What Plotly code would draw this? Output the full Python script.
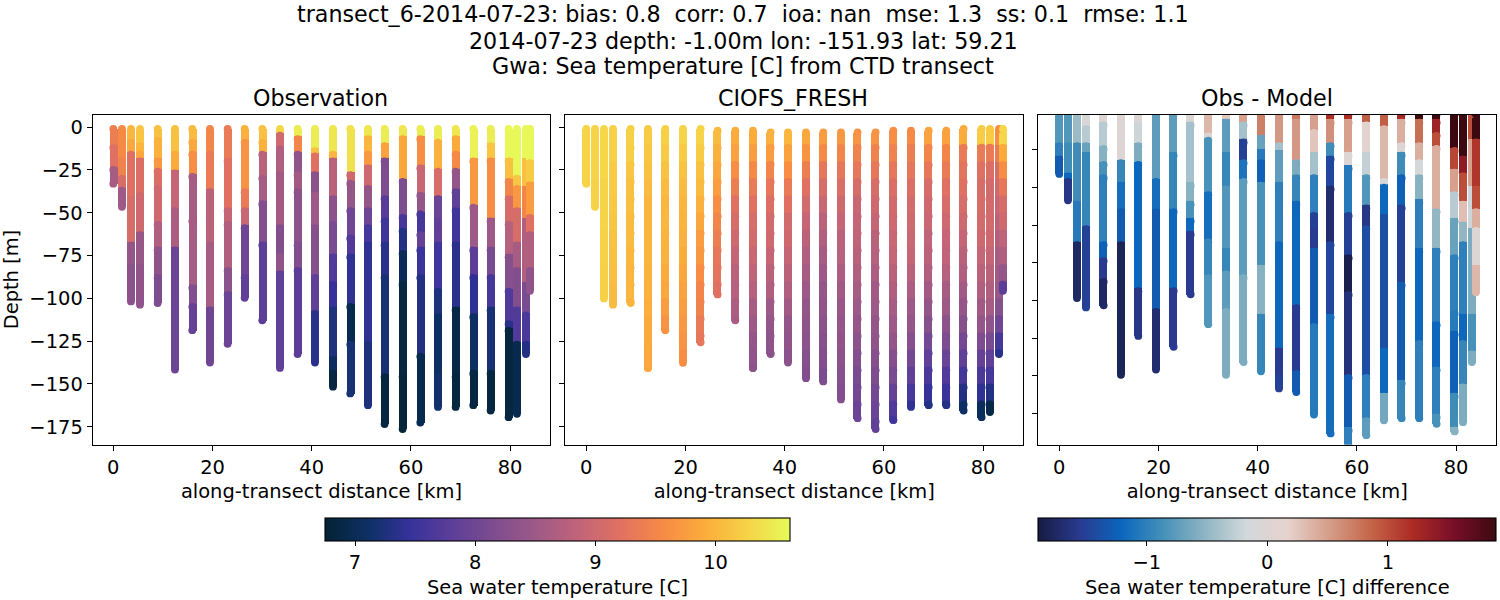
import plotly.graph_objects as go
from plotly.subplots import make_subplots

# cast positions along the transect [km]
CAST_KM = [0, 1.75, 3.56, 5.38, 8.94, 12.43, 15.93, 19.49, 23.05, 26.48, 30.04, 33.6, 37.16, 40.66,
           44.29, 47.78, 51.34, 54.7, 58.33, 61.9, 65.46, 69.02, 72.58, 76.07, 79.7, 81.38, 83.2, 84.0]

# observation: lower edge of each layer [m] and its temperature [C]
OBS_DEPTH = [
    [10, 23, 33],
    [18, 28, 35, 46.5],
    [7, 14, 40, 67, 80, 101.8],
    [9, 14, 18, 38, 61, 80, 103.7],
    [6, 18, 24, 34, 55, 70, 86, 102.7],
    [14, 25, 47, 70, 141.6],
    [7, 14, 27, 53, 92, 103, 118.6],
    [14, 36, 67, 105, 137.5],
    [18, 47, 55, 82, 96, 126.5],
    [7, 36, 47, 57, 86, 99.7],
    [7, 14, 28, 43, 67, 112.8],
    [3, 11, 26, 57, 74, 84, 140.6],
    [5, 14, 26, 36, 67, 82, 132.5],
    [12, 15, 26, 38, 57, 86, 107, 137.5],
    [14, 18, 40, 55, 74, 90, 105, 134, 142, 151.6],
    [26, 31, 47, 63, 74, 103, 125, 155.5],
    [5, 14, 22, 34, 47, 57, 67, 82, 125, 162.4],
    [9, 18, 40, 53, 67, 86, 144, 173.4],
    [5, 30, 51, 59, 72, 90, 144, 176.3],
    [5, 22, 38, 49, 61, 70, 86, 132, 172.5],
    [7, 24, 40, 53, 67, 94, 109, 144, 163.4],
    [5, 14, 24, 36, 47, 67, 105, 144, 163.4],
    [18, 45, 70, 86, 109, 142, 162.4],
    [9, 18, 53, 70, 86, 105, 142, 165.5],
    [18, 30, 40, 55, 74, 94, 113, 117, 169.4],
    [28, 34, 47, 67, 82, 105, 125, 167.4],
    [18, 34, 53, 90, 108, 125, 132.5],
    [19, 32, 51, 61, 82, 95.6],
]
OBS_TEMP = [
    [9.4, 9.2, 8.6],
    [9.55, 9.45, 9.1, 8.5],
    [10.0, 9.85, 9.2, 9.1, 8.4, 8.3],
    [10.15, 10.0, 9.85, 9.15, 9.0, 8.45, 8.35],
    [10.1, 9.95, 9.7, 9.15, 9.0, 8.7, 8.35, 8.15],
    [10.1, 9.9, 8.9, 8.65, 7.95],
    [10.05, 9.85, 9.6, 8.6, 8.6, 8.2, 7.9],
    [9.5, 9.35, 8.8, 8.6, 8.0],
    [9.35, 9.2, 8.9, 8.7, 8.3, 7.95],
    [9.95, 9.65, 9.35, 8.95, 8.0, 7.85],
    [10.1, 9.95, 8.8, 8.6, 8.2, 7.8],
    [10.3, 9.0, 8.7, 8.55, 8.2, 8.35, 7.85],
    [10.5, 9.5, 8.35, 8.55, 8.3, 8.2, 7.8],
    [10.5, 10.1, 9.2, 8.3, 8.5, 8.25, 7.85, 7.35],
    [10.45, 10.0, 8.8, 8.3, 8.1, 7.7, 7.45, 7.25, 7.05, 6.85],
    [10.4, 9.0, 8.4, 8.0, 7.7, 7.4, 6.95, 7.2],
    [10.45, 10.0, 9.7, 9.0, 8.4, 8.0, 7.6, 7.4, 7.4, 7.25],
    [10.5, 9.8, 8.15, 7.75, 7.55, 7.35, 7.2, 6.85],
    [10.45, 9.85, 8.15, 7.6, 7.3, 7.0, 6.85, 6.8],
    [10.5, 9.6, 8.95, 8.4, 7.6, 7.9, 7.5, 7.3, 6.95],
    [10.5, 9.95, 9.1, 7.95, 7.85, 7.55, 7.25, 7.1, 7.15],
    [10.45, 9.9, 9.55, 8.4, 7.85, 7.55, 7.35, 6.9, 6.85],
    [10.55, 9.7, 8.5, 7.8, 7.4, 7.1, 6.85],
    [10.5, 10.15, 9.6, 8.5, 8.1, 7.6, 7.2, 6.85],
    [10.6, 10.1, 9.5, 9.1, 8.75, 8.25, 7.7, 7.35, 6.85],
    [10.6, 10.15, 9.7, 9.1, 8.6, 8.2, 7.7, 6.95],
    [10.6, 10.1, 9.5, 8.7, 8.1, 7.65, 7.3],
    [10.6, 10.2, 9.75, 9.2, 8.7, 8.35],
]

# model: upper end of each cast, bottom of each cast, and temperature in 10 m layers
MOD_TOP = [1, 1, 1, 1, 1, 1, 1, 1, 1, 2, 2, 2, 3, 3, 3, 3, 3, 3, 3, 2, 2, 2, 2, 1, 1, 1, 1, 1]
MOD_BOTTOM = [33, 46.5, 100, 103.7, 102.7, 140.7, 118.6, 137.6, 125.7, 97.7, 112.8, 140.7, 132.5, 137.5,
              146.6, 148.5, 159, 170, 176.3, 171, 163.4, 162.4, 162.4, 165.5, 169.4, 166.4, 132.5, 95.6]
MOD_LAYERS = [10, 20, 30, 40, 50, 60, 70, 80, 90, 100, 110, 120, 130, 140, 150, 160, 170, 180]
MOD_TEMP = [
    [10.28, 10.28, 10.28, 10.26],
    [10.28, 10.28, 10.28, 10.27, 10.26],
    [10.3, 10.3, 10.3, 10.28, 10.28, 10.28, 10.26, 10.26, 10.25, 10.25],
    [10.25, 10.25, 10.2, 10.2, 10.18, 10.15, 10.12, 10.1, 10.08, 10.05, 10.05],
    [10.25, 10.22, 10.15, 10.1, 10.08, 10.05, 10.05, 10.02, 10.0, 10.0, 9.98],
    [10.2, 10.15, 10.1, 10.05, 10.0, 10.0, 10.0, 10.0, 9.98, 9.95, 9.93, 9.9, 9.88, 9.85, 9.85],
    [10.25, 10.2, 10.12, 10.05, 10.0, 10.0, 9.98, 9.95, 9.9, 9.85, 9.75, 9.65],
    [10.28, 10.2, 10.12, 10.05, 10.0, 9.98, 9.95, 9.92, 9.85, 9.8, 9.75, 9.7, 9.65, 9.6],
    [10.28, 10.2, 10.1, 10.05, 9.95, 9.85, 9.75, 9.7, 9.6, 9.5, 9.45, 9.35, 9.3],
    [10.05, 9.95, 9.85, 9.75, 9.6, 9.5, 9.4, 9.3, 9.25, 9.2],
    [9.9, 9.8, 9.6, 9.4, 9.2, 9.1, 9.0, 8.9, 8.8, 8.75, 8.65, 8.6],
    [9.9, 9.75, 9.55, 9.35, 9.2, 9.1, 9.05, 8.95, 8.85, 8.75, 8.6, 8.5, 8.4, 8.35, 8.3],
    [9.95, 9.75, 9.5, 9.3, 9.15, 9.05, 9.0, 8.9, 8.8, 8.7, 8.5, 8.4, 8.35, 8.3],
    [10.0, 9.8, 9.6, 9.35, 9.2, 9.05, 9.0, 8.9, 8.8, 8.7, 8.55, 8.4, 8.35, 8.3],
    [9.85, 9.65, 9.4, 9.2, 9.05, 8.9, 8.8, 8.7, 8.6, 8.5, 8.4, 8.35, 8.3, 8.25, 8.2],
    [9.75, 9.55, 9.3, 9.1, 8.95, 8.8, 8.7, 8.6, 8.5, 8.4, 8.35, 8.3, 8.25, 8.2, 8.15],
    [9.7, 9.5, 9.3, 9.15, 9.0, 8.9, 8.8, 8.75, 8.65, 8.55, 8.45, 8.4, 8.35, 8.3, 8.25, 8.2],
    [9.65, 9.45, 9.3, 9.1, 8.95, 8.9, 8.85, 8.8, 8.7, 8.6, 8.5, 8.4, 8.3, 8.2, 8.1, 8.05, 7.95],
    [9.65, 9.45, 9.3, 9.1, 9.0, 8.9, 8.8, 8.75, 8.65, 8.55, 8.5, 8.4, 8.35, 8.25, 8.15, 8.05, 7.95, 7.85],
    [9.6, 9.45, 9.3, 9.15, 9.05, 9.0, 8.95, 8.9, 8.8, 8.7, 8.6, 8.5, 8.4, 8.25, 8.1, 7.9, 7.7, 7.55],
    [9.55, 9.4, 9.3, 9.15, 9.05, 9.0, 8.95, 8.9, 8.8, 8.65, 8.5, 8.4, 8.25, 8.05, 7.85, 7.6, 7.4],
    [9.8, 9.5, 9.3, 9.1, 9.0, 8.95, 8.85, 8.8, 8.7, 8.55, 8.4, 8.25, 8.05, 7.85, 7.65, 7.45, 7.3],
    [9.8, 9.5, 9.35, 9.2, 9.1, 9.0, 8.9, 8.85, 8.75, 8.6, 8.5, 8.3, 8.15, 7.95, 7.7, 7.5, 7.3],
    [9.9, 9.35, 9.25, 9.2, 9.1, 9.0, 8.9, 8.8, 8.7, 8.55, 8.4, 8.25, 8.05, 7.85, 7.6, 7.3, 7.1],
    [10.2, 9.35, 9.2, 9.1, 9.1, 9.05, 9.0, 8.9, 8.8, 8.7, 8.55, 8.4, 8.15, 7.9, 7.65, 7.4, 7.05],
    [10.2, 9.35, 9.15, 9.05, 9.05, 9.05, 9.0, 8.9, 8.8, 8.7, 8.6, 8.35, 8.1, 7.85, 7.6, 7.3, 6.9],
    [9.6, 9.35, 9.1, 9.0, 8.9, 8.8, 8.7, 8.6, 8.55, 8.45, 8.25, 8.0, 7.6, 7.35],
    [10.3, 9.9, 9.6, 9.3, 9.1, 9.0, 8.85, 8.7, 8.4, 7.8],
]

# obs - model: lower edge of each layer [m] and the difference [C]
DIFF_DEPTH = [
    [16, 23, 32.7],
    [16, 32, 35, 46.7],
    [16, 47, 68.5, 98.6],
    [7, 16, 21, 60, 103.6],
    [5, 17.5, 26, 33, 68.5, 77, 88, 102.5],
    [25, 37, 51, 68.5, 139.4],
    [5, 16, 26, 93, 118.7],
    [35, 51, 104, 136.6],
    [21, 51, 93, 124.5],
    [5, 37, 47, 56, 63, 96.6],
    [11, 13, 42, 67, 86, 112.5],
    [3.5, 21, 39, 72, 84, 104, 139.4],
    [5, 14, 25, 35, 86, 132.6],
    [12, 19.5, 25, 37, 81, 107, 137.5],
    [16, 20, 37, 68.5, 125, 139, 146.6],
    [3.5, 25, 33, 47, 102, 137, 148.5],
    [9, 21, 33, 53, 61, 72, 112, 160.5],
    [3.5, 16, 23, 39, 68.5, 107, 170.5],
    [3.5, 21, 28, 53, 75.5, 95, 139, 167, 177],
    [5, 21, 33, 49, 60, 139, 162, 171.4],
    [7, 35, 38, 54, 125, 149, 163.5],
    [3.5, 16, 21, 33, 49, 90, 142, 162.4],
    [3.5, 16, 25, 33, 46, 72, 121, 162.4],
    [3.5, 10.5, 17.5, 51, 72, 111, 135, 160, 165.4],
    [18.5, 30, 42, 56, 75.5, 105, 116, 149, 167, 169.4],
    [23, 32, 47, 58, 68.5, 100, 107, 121, 144, 164.5],
    [14, 39, 61, 107, 126.5, 132.6],
    [14, 39, 51, 61, 81, 95.6],
]
DIFF_VALUE = [
    [-0.8, -1.0, -1.3],
    [-0.8, -0.9, -1.2, -1.6],
    [-0.45, -0.9, -1.05, -1.75],
    [-0.05, -0.3, -0.7, -0.95, -1.5],
    [0.0, -0.3, -0.55, -0.85, -1.0, -1.25, -1.55, -1.75],
    [0.0, -0.95, -1.15, -1.3, -1.8],
    [0.0, -0.2, -0.6, -1.2, -1.6],
    [-0.75, -1.15, -1.3, -1.7],
    [-0.75, -0.95, -1.2, -1.55],
    [0.0, -0.4, -0.55, -0.85, -1.2, -1.55],
    [0.35, 0.0, -0.85, -1.15, -0.95, -0.8],
    [0.25, -0.75, -0.95, -0.8, -0.95, -0.75, -0.6],
    [0.5, -0.4, -1.5, -1.1, -0.75, -0.6],
    [0.7, -0.7, -1.05, -1.25, -0.85, -0.55, -0.95],
    [0.55, -0.4, -0.75, -1.0, -1.2, -1.55, -1.5],
    [0.75, 0.55, -0.6, -0.95, -1.2, -1.55, -1.3],
    [0.5, 0.25, -0.4, -1.0, -1.5, -1.55, -1.3, -1.05],
    [1.2, 0.6, -0.9, -1.45, -1.7, -1.45, -1.15],
    [1.2, 0.5, 0.0, -1.05, -1.5, -1.85, -1.65, -1.3, -1.0],
    [0.9, 0.1, -0.25, -0.8, -1.6, -1.4, -1.0, -0.75],
    [0.9, 0.35, -0.1, -1.2, -1.4, -1.2, -0.65],
    [1.25, 0.4, 0.0, -0.9, -1.25, -1.5, -1.3, -0.95],
    [1.9, 0.8, 0.4, -0.1, -0.55, -1.0, -1.2, -1.0],
    [1.9, 1.3, 1.0, 0.4, -0.5, -1.0, -1.2, -1.0, -0.85],
    [1.9, 1.05, 0.5, -0.3, -0.7, -1.0, -1.05, -1.25, -0.9, -0.55],
    [1.9, 1.4, 1.0, 0.3, -0.5, -1.0, -1.0, -1.2, -0.95, -0.6],
    [1.0, 0.5, -0.2, -0.6, -0.85, -0.6],
    [1.9, 1.15, 1.0, 0.4, 0.0, 0.35],
]

KM_TICKS = [0, 20, 40, 60, 80]
DEPTH_TICKS = [0, -25, -50, -75, -100, -125, -150, -175]
DIFF_DEPTH_TICKS = [-20, -40, -60, -80, -100, -120, -140, -160]
TEMP_TICKS = [7, 8, 9, 10]
DIFF_TICKS = [-1, 0, 1]

FONT = "DejaVu Sans"
W, H = 1500, 600
BAR_KM = 1.6
CAP_PX = 7.8
LABEL = dict(size=19.44, family=FONT, color="black")
HEAD = dict(size=22.2, family=FONT, color="black")


def add_casts(fig, col, tops, depths, values, axis):
    # one bar per layer, plus round dots where each layer starts so the casts read as scattered points
    xs, bases, heights, colors, cap_x, cap_y, cap_c = [], [], [], [], [], [], []
    for n, (km, top, bottoms, vals) in enumerate(zip(CAST_KM, tops, depths, values)):
        # a neighbour that overlaps this cast hides its upper part
        hidden = depths[n + 1][-1] if n + 1 < len(CAST_KM) and CAST_KM[n + 1] - km < 1.5 else 0
        upper = top
        for lower, val in zip(bottoms, vals):
            xs.append(km)
            bases.append(-upper)
            heights.append(upper - lower)
            colors.append(val)
            if upper >= hidden or upper == top:
                cap_x.append(km)
                cap_y.append(-upper if upper == top else -min(upper + 2, lower))
                cap_c.append(val)
            upper = lower
        cap_x.append(km)
        cap_y.append(-bottoms[-1])
        cap_c.append(vals[-1])
    fig.add_trace(go.Bar(
        x=xs, y=heights, base=bases, width=BAR_KM,
        marker=dict(color=colors, coloraxis=axis, line=dict(width=0)),
        showlegend=False,
    ), row=1, col=col)
    fig.add_trace(go.Scatter(
        x=cap_x, y=cap_y, mode="markers",
        marker=dict(size=CAP_PX, color=cap_c, coloraxis=axis, line=dict(width=0)),
        showlegend=False,
    ), row=1, col=col)


# model layers clipped to the cast bottom
mod_depth = []
for bottom, vals in zip(MOD_BOTTOM, MOD_TEMP):
    edges = [d for d in MOD_LAYERS[:len(vals) - 1]] + [bottom]
    mod_depth.append(edges)

fig = make_subplots(rows=1, cols=3)
add_casts(fig, 1, [1] * len(CAST_KM), OBS_DEPTH, OBS_TEMP, "coloraxis")
add_casts(fig, 2, MOD_TOP, mod_depth, MOD_TEMP, "coloraxis")
add_casts(fig, 3, [1] * len(CAST_KM), DIFF_DEPTH, DIFF_VALUE, "coloraxis2")

panels = [(92.7, 550.3, 113.3), (565.3, 1023.3, 586.3), (1038.3, 1496.3, 1059.3)]
KM_PX = 4.96
for i, (left, right, zero) in enumerate(panels, start=1):
    fig.update_xaxes(
        domain=[left / W, right / W],
        range=[(left - zero) / KM_PX, (right - zero) / KM_PX],
        tickvals=KM_TICKS,
        title=dict(text="along-transect distance [km]", font=LABEL, standoff=6),
        row=1, col=i,
    )
    fig.update_yaxes(domain=[1 - 448.3 / H, 1 - 115.5 / H], row=1, col=i)

fig.update_xaxes(
    showgrid=False, zeroline=False, showline=True, mirror=True, linecolor="black", linewidth=1.1,
    ticks="outside", ticklen=5, tickwidth=1.1, tickcolor="black", tickfont=LABEL,
)
fig.update_yaxes(
    showgrid=False, zeroline=False, showline=True, mirror=True, linecolor="black", linewidth=1.1,
    ticks="outside", ticklen=5, tickwidth=1.1, tickcolor="black", tickfont=LABEL,
)
fig.update_yaxes(range=[-185.4, 7.4], tickvals=DEPTH_TICKS, row=1, col=1,
                 title=dict(text="Depth [m]", font=LABEL, standoff=5))
fig.update_yaxes(range=[-185.4, 7.4], tickvals=DEPTH_TICKS, showticklabels=False, row=1, col=2)
fig.update_yaxes(range=[-176.4, -1.2], tickvals=DIFF_DEPTH_TICKS, showticklabels=False, row=1, col=3)

title_lines = [
    ("transect_6-2014-07-23: bias: 0.8  corr: 0.7  ioa: nan  mse: 1.3  ss: 0.1  rmse: 1.1", 14),
    ("2014-07-23 depth: -1.00m lon: -151.93 lat: 59.21", 41),
    ("Gwa: Sea temperature [C] from CTD transect", 67),
]
annotations = [
    dict(text=t, x=743 / W, y=1 - y / H, xref="paper", yref="paper", xanchor="center", yanchor="middle",
         showarrow=False, font=HEAD)
    for t, y in title_lines
]
for t, x in [("Observation", 320), ("CIOFS_FRESH", 793), ("Obs - Model", 1267)]:
    annotations.append(dict(text=t, x=x / W, y=1 - 99 / H, xref="paper", yref="paper", xanchor="center",
                            yanchor="middle", showarrow=False, font=HEAD))

bar_style = dict(
    orientation="h", thickness=22.7, thicknessmode="pixels", lenmode="pixels",
    xanchor="left", yanchor="top", y=1 - 522.3 / H, xpad=0, ypad=0,
    outlinecolor="black", outlinewidth=1.1,
    ticks="outside", ticklen=5, tickwidth=1.1, tickcolor="black", tickfont=LABEL,
)
fig.update_layout(
    width=W, height=H,
    margin=dict(l=0, r=0, t=0, b=0),
    paper_bgcolor="white", plot_bgcolor="white",
    barmode="overlay", bargap=0,
    font=dict(family=FONT, color="black"),
    annotations=annotations,
    coloraxis=dict(
        colorscale="thermal", cmin=6.75, cmax=10.62,
        colorbar=dict(x=325 / W, len=465.3, tickvals=TEMP_TICKS,
                      title=dict(text="Sea water temperature [C]", side="bottom", font=LABEL), **bar_style),
    ),
    coloraxis2=dict(
        colorscale="balance", cmin=-1.9, cmax=1.9,
        colorbar=dict(x=1038.3 / W, len=458.4, tickvals=DIFF_TICKS,
                      title=dict(text="Sea water temperature [C] difference", side="bottom", font=LABEL), **bar_style),
    ),
)

fig.write_html("out.html", config={"displayModeBar": False}, post_script="document.body.style.margin='0';")
